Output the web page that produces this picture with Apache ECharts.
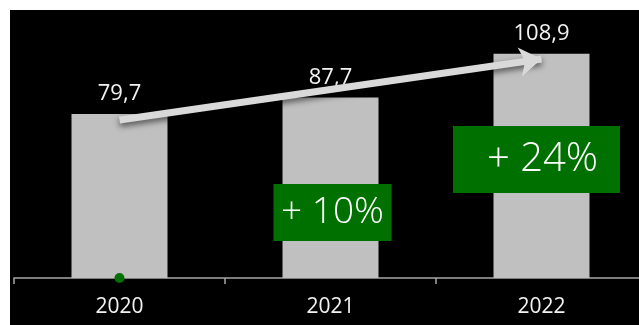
<!DOCTYPE html>
<html>
<head>
<meta charset="utf-8">
<script src="https://cdn.jsdelivr.net/npm/echarts@6/dist/echarts.min.js"></script>
<style>
  html, body { margin: 0; padding: 0; background: #fff; overflow: hidden; }
  #chart { position: absolute; left: 10px; top: 10px; width: 637px; height: 315px; background: #000; }
</style>
</head>
<body>
<div id="chart"></div>
<script>
const years = ['2020', '2021', '2022'];
const revenue = [79.7, 87.7, 108.9];
const growthLabels = ['+ 10%', '+ 24%'];
// arrow start/end in data units (category index, value)
const trendFrom = [0, 76.8];
const trendTo = [2, 106.4];

const chart = echarts.init(document.getElementById('chart'));

const option = {
  backgroundColor: '#000',
  animation: false,
  grid: { left: 4, right: 0, top: 21, bottom: 47 },
  xAxis: {
    type: 'category',
    data: years,
    axisLine: { lineStyle: { color: '#a6a6a6', width: 1.5 } },
    axisTick: { show: true, length: 6, lineStyle: { color: '#a6a6a6', width: 1.5 } },
    axisLabel: { color: '#f2f2f2', fontSize: 21, fontFamily: 'Open Sans', margin: 19 }
  },
  yAxis: {
    type: 'value',
    min: 0,
    max: 120,
    show: false,
    splitLine: { show: false }
  },
  series: [
    {
      type: 'bar',
      data: revenue,
      barWidth: 96,
      itemStyle: { color: '#c0c0c0' },
      label: {
        show: true,
        position: 'top',
        distance: 9,
        color: '#f2f2f2',
        fontSize: 22,
        fontFamily: 'Open Sans',
        formatter: p => String(p.value).replace('.', ',')
      },
      markLine: {
        silent: true,
        symbol: ['none', 'arrow'],
        symbolSize: [22, 22],
        label: { show: false },
        lineStyle: {
          color: '#d9d9d9',
          width: 7,
          type: 'solid',
          shadowColor: 'rgba(0,0,0,0.6)',
          shadowBlur: 6,
          shadowOffsetY: 3
        },
        emphasis: { disabled: true },
        data: [[{ coord: trendFrom }, { coord: trendTo }]]
      },
      markPoint: {
        silent: true,
        data: [
          {
            coord: [0, 0],
            symbol: 'circle',
            symbolSize: 10,
            itemStyle: { color: '#007000' },
            label: { show: false }
          },
          {
            coord: [1, 31.8],
            symbol: 'rect',
            symbolSize: [118, 57],
            symbolOffset: [2, 0],
            itemStyle: { color: '#007000' },
            label: {
              show: true,
              position: 'inside',
              formatter: growthLabels[0],
              color: '#fff',
              fontSize: 37,
              fontWeight: 300,
              fontFamily: 'Open Sans'
            }
          },
          {
            coord: [2, 57.6],
            symbol: 'rect',
            symbolSize: [167, 67],
            symbolOffset: [-5, 0],
            itemStyle: { color: '#007000' },
            label: {
              show: true,
              position: 'inside',
              offset: [6, 0],
              formatter: growthLabels[1],
              color: '#fff',
              fontSize: 40,
              fontWeight: 300,
              fontFamily: 'Open Sans'
            }
          }
        ]
      }
    }
  ]
};

chart.setOption(option);
</script>
</body>
</html>
